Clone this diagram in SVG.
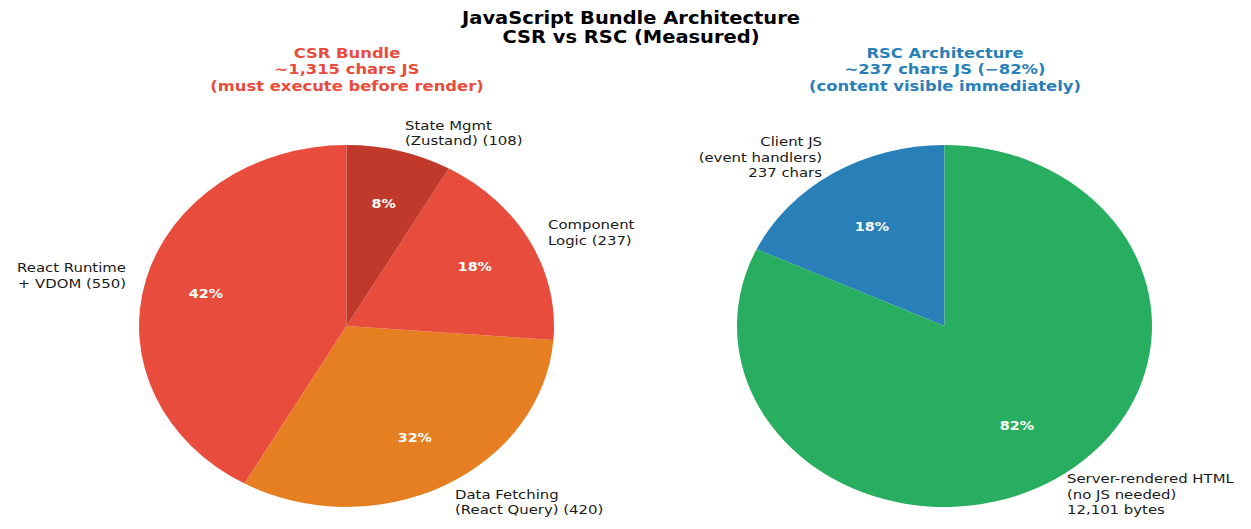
<svg xmlns="http://www.w3.org/2000/svg" width="1251" height="529" viewBox="0 0 1251 529">
<style>
text{font-family:"DejaVu Sans","Liberation Sans",sans-serif;}
.title{font-size:17px;font-weight:bold;fill:#000;text-anchor:middle;}
.sub{font-size:14.3px;font-weight:bold;text-anchor:middle;}
.lbl{font-size:13px;fill:#1a1a1a;}
.pct{font-size:12.5px;font-weight:bold;fill:#fff;text-anchor:middle;}
.red{fill:#e74c3c;}
.blue{fill:#2980b9;}
</style>
<rect width="1251" height="529" fill="#fff"/>
<g id="title">
<text class="title" transform="matrix(1.146 0 0 1 631 24)"><tspan x="0" y="0">JavaScript Bundle Architecture</tspan><tspan x="0" y="19.5">CSR vs RSC (Measured)</tspan></text>
</g>
<g id="csr-header">
<text class="sub red" transform="matrix(1.146 0 0 1 347 57.5)"><tspan x="0" y="0">CSR Bundle</tspan><tspan x="0" y="17">~1,315 chars JS</tspan><tspan x="0" y="34">(must execute before render)</tspan></text>
</g>
<g id="rsc-header">
<text class="sub blue" transform="matrix(1.146 0 0 1 945 57.5)"><tspan x="0" y="0">RSC Architecture</tspan><tspan x="0" y="17">~237 chars JS (−82%)</tspan><tspan x="0" y="34">(content visible immediately)</tspan></text>
</g>
<g id="csr-react-runtime">
<path d="M346.5 326 L346.5 145 A207.5 181 0 0 0 244.5 483.6 Z" fill="#e74c3c"/>
<text class="pct" transform="matrix(1.146 0 0 1 206 298.4)">42%</text>
<text class="lbl" text-anchor="end" transform="matrix(1.146 0 0 1 126 272)"><tspan x="0" y="0">React Runtime</tspan><tspan x="0" y="16">+ VDOM (550)</tspan></text>
</g>
<g id="csr-data-fetching">
<path d="M346.5 326 L244.5 483.6 A207.5 181 0 0 0 553.4 340 Z" fill="#e67e22"/>
<text class="pct" transform="matrix(1.146 0 0 1 414.8 442.4)">32%</text>
<text class="lbl" transform="matrix(1.146 0 0 1 455 498.5)"><tspan x="0" y="0">Data Fetching</tspan><tspan x="0" y="16">(React Query) (420)</tspan></text>
</g>
<g id="csr-component-logic">
<path d="M346.5 326 L553.4 340 A207.5 181 0 0 0 448.9 168.6 Z" fill="#e74c3c"/>
<text class="pct" transform="matrix(1.146 0 0 1 474.8 271.1)">18%</text>
<text class="lbl" transform="matrix(1.146 0 0 1 548 229)"><tspan x="0" y="0">Component</tspan><tspan x="0" y="16">Logic (237)</tspan></text>
</g>
<g id="csr-state-mgmt">
<path d="M346.5 326 L448.9 168.6 A207.5 181 0 0 0 346.5 145 Z" fill="#c0392b"/>
<text class="pct" transform="matrix(1.146 0 0 1 383.6 208.1)">8%</text>
<text class="lbl" transform="matrix(1.146 0 0 1 405 129.5)"><tspan x="0" y="0">State Mgmt</tspan><tspan x="0" y="16">(Zustand) (108)</tspan></text>
</g>
<g id="rsc-client-js">
<path d="M944.5 326 L944.5 145 A207.5 181 0 0 0 756.6 249.2 Z" fill="#2980b9"/>
<text class="pct" transform="matrix(1.146 0 0 1 872 231)">18%</text>
<text class="lbl" text-anchor="end" transform="matrix(1.146 0 0 1 822 146)"><tspan x="0" y="0">Client JS</tspan><tspan x="0" y="15.6">(event handlers)</tspan><tspan x="0" y="31.2">237 chars</tspan></text>
</g>
<g id="rsc-server-html">
<path d="M944.5 326 L756.6 249.2 A207.5 181 0 1 0 944.5 145 Z" fill="#27ae60"/>
<text class="pct" transform="matrix(1.146 0 0 1 1017 429.8)">82%</text>
<text class="lbl" transform="matrix(1.146 0 0 1 1067 483)"><tspan x="0" y="0">Server-rendered HTML</tspan><tspan x="0" y="15.6">(no JS needed)</tspan><tspan x="0" y="31.2">12,101 bytes</tspan></text>
</g>
</svg>
